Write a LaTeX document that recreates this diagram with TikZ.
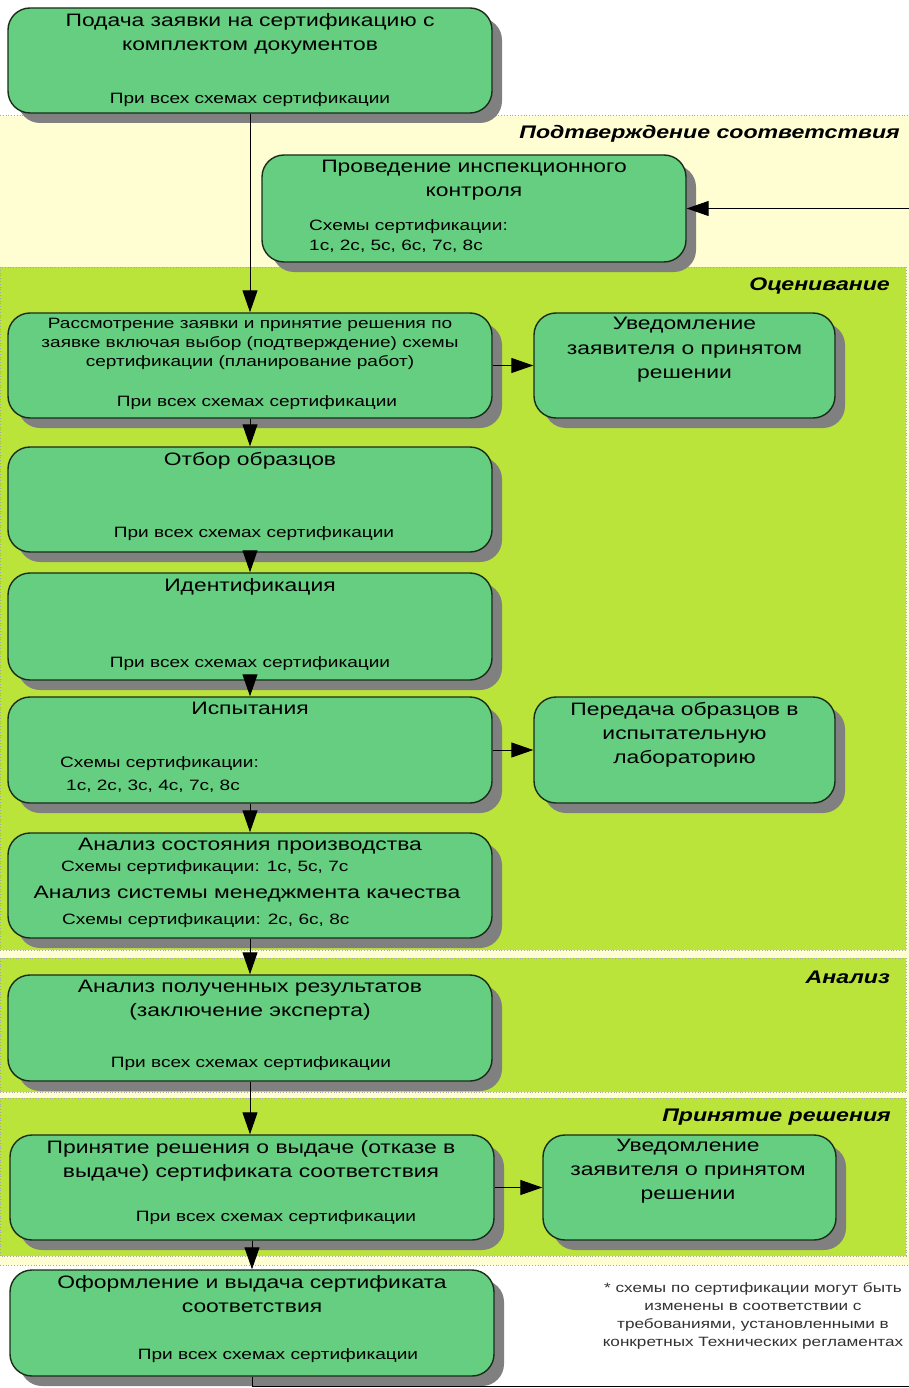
\documentclass[tikz,border=0pt]{standalone}
\usepackage{fontspec}
\setmainfont{Liberation Sans}[FakeStretch=1.27]
\usetikzlibrary{arrows.meta,shadows}
\definecolor{boxgreen}{RGB}{102,206,128}
\definecolor{lanegreen}{RGB}{186,228,58}
\definecolor{paleyellow}{RGB}{254,254,210}
\definecolor{shadowgray}{RGB}{128,128,128}
\definecolor{edgedark}{RGB}{25,45,25}
\definecolor{notegray}{RGB}{50,50,50}
\tikzset{
  procbox/.style={draw=edgedark, line width=1.4pt, fill=boxgreen, rounded corners=22pt,
    general shadow={fill=shadowgray, shadow xshift=10pt, shadow yshift=-10pt}, inner sep=0pt},
  ttl/.style={anchor=north, align=center, inner sep=0pt, font=\fontsize{18}{24}\selectfont},
  ttlleft/.style={anchor=north west, align=left, inner sep=0pt, font=\fontsize{15}{20}\selectfont},
  sub/.style={anchor=north, inner sep=0pt, font=\fontsize{15}{19}\selectfont},
  subleft/.style={anchor=north west, inner sep=0pt, font=\fontsize{15}{19}\selectfont},
  lanelabel/.style={anchor=north east, inner sep=0pt, font=\fontsize{18.2}{22}\selectfont\bfseries\itshape},
  flow/.style={draw=black, line width=1pt, -{Triangle[length=22pt,width=15pt]}},
  plainline/.style={draw=black, line width=1pt},
  laneedge/.style={draw=gray!70, dotted, line width=0.8pt},
}
\begin{document}
\begin{tikzpicture}[x=1pt,y=-1pt]
\useasboundingbox (0,0) rectangle (909,1388);
\fill[white] (0,0) rectangle (909,1388);
% lanes
\fill[paleyellow] (0,115) rectangle (909,1265);
\draw[laneedge] (0,115) -- (909,115);
\draw[laneedge] (0,1265) -- (909,1265);
\fill[lanegreen] (0,267) rectangle (906,950);
\draw[laneedge] (0,267) rectangle (906,950);
\fill[lanegreen] (0,958) rectangle (906,1092);
\draw[laneedge] (0,958) rectangle (906,1092);
\fill[lanegreen] (0,1098) rectangle (906,1256);
\draw[laneedge] (0,1098) rectangle (906,1256);
\node[lanelabel] (l1) at (900,125) {Подтверждение соответствия};
\node[lanelabel] (l2) at (890,278) {Оценивание};
\node[lanelabel] (l3) at (890,971) {Анализ};
\node[lanelabel] (l4) at (891,1109) {Принятие решения};
% boxes
\node[procbox, minimum width=484pt, minimum height=105pt] (b1) at (250,60.5) {};
\node[procbox, minimum width=424pt, minimum height=107pt] (insp) at (474,208.5) {};
\node[procbox, minimum width=484pt, minimum height=105pt] (rev) at (250,365.5) {};
\node[procbox, minimum width=301pt, minimum height=105pt] (not1) at (684.5,365.5) {};
\node[procbox, minimum width=484pt, minimum height=105pt] (otb) at (250,499.5) {};
\node[procbox, minimum width=484pt, minimum height=107pt] (idn) at (250,626.5) {};
\node[procbox, minimum width=484pt, minimum height=106pt] (isp) at (250,750) {};
\node[procbox, minimum width=301pt, minimum height=106pt] (per) at (684.5,750) {};
\node[procbox, minimum width=484pt, minimum height=105pt] (ans) at (250,885.5) {};
\node[procbox, minimum width=484pt, minimum height=106pt] (anr) at (250,1028) {};
\node[procbox, minimum width=484pt, minimum height=105pt] (prn) at (252,1187.5) {};
\node[procbox, minimum width=293pt, minimum height=105pt] (not2) at (689.5,1187.5) {};
\node[procbox, minimum width=484pt, minimum height=106pt] (ofr) at (252,1323) {};
% texts
\node[ttl] (t1) at (250,13) {Подача заявки на сертификацию с\\комплектом документов};
\node[sub] (s1) at (250,92) {При всех схемах сертификации};
\node[ttl] (t2) at (474,160) {Проведение инспекционного\\контроля};
\node[ttlleft] (s2) at (309,219) {Схемы сертификации:\\1с, 2с, 5с, 6с, 7с, 8с};
\node[ttl, font=\fontsize{15}{19}\selectfont] (t3) at (250,318) {Рассмотрение заявки и принятие решения по\\заявке включая выбор (подтверждение) схемы\\сертификации (планирование работ)};
\node[sub] (s3) at (257,395) {При всех схемах сертификации};
\node[ttl, font=\fontsize{18}{24.5}\selectfont] (t4) at (684.5,317) {Уведомление\\заявителя о принятом\\решении};
\node[ttl] (t5) at (250,452) {Отбор образцов};
\node[sub] (s5) at (254,526) {При всех схемах сертификации};
\node[ttl] (t6) at (250,578) {Идентификация};
\node[sub] (s6) at (250,656) {При всех схемах сертификации};
\node[ttl] (t7) at (250,702) {Испытания};
\node[subleft] (s7a) at (60,756) {Схемы сертификации:};
\node[subleft] (s7b) at (66,780) {1с, 2с, 3с, 4с, 7с, 8с};
\node[ttl] (t8) at (684.5,702) {Передача образцов в\\испытательную\\лабораторию};
\node[ttl] (t9a) at (250,838) {Анализ состояния производства};
\node[subleft] (s9a) at (61,860) {Схемы сертификации: 1с, 5с, 7с};
\node[ttl] (t9b) at (247,886) {Анализ системы менеджмента качества};
\node[subleft] (s9b) at (62,913) {Схемы сертификации: 2с, 6с, 8с};
\node[ttl] (t10) at (250,980) {Анализ полученных результатов\\(заключение эксперта)};
\node[sub] (s10) at (251,1056) {При всех схемах сертификации};
\node[ttl] (t11) at (251,1140) {Принятие решения о выдаче (отказе в\\выдаче) сертификата соответствия};
\node[sub] (s11) at (276,1210) {При всех схемах сертификации};
\node[ttl] (t12) at (688,1139) {Уведомление\\заявителя о принятом\\решении};
\node[ttl] (t13) at (252,1275) {Оформление и выдача сертификата\\соответствия};
\node[sub] (s13) at (278,1348) {При всех схемах сертификации};
\node[anchor=north, align=center, inner sep=0pt, text=notegray, font=\fontsize{13.5}{18}\selectfont] (note) at (753,1282)
  {* схемы по сертификации могут быть\\изменены в соответствии с\\требованиями, установленными в\\конкретных Технических регламентах};
% connectors
\draw[flow] (b1.south) -- (b1.south |- rev.north);
\draw[flow] (rev.south) -- (otb.north);
\draw[flow] (otb.south) -- (idn.north);
\draw[flow] (idn.south) -- (isp.north);
\draw[flow] (isp.south) -- (ans.north);
\draw[flow] (ans.south) -- (anr.north);
\draw[flow] (anr.south) -- (anr.south |- prn.north);
\draw[flow] (prn.south) -- (ofr.north);
\draw[flow] (rev.east) -- (not1.west);
\draw[flow] (isp.east) -- (per.west);
\draw[flow] (prn.east) -- (not2.west);
\coordinate (fbB) at (909,1386);
\coordinate (fbT) at (909,208.5);
\draw[plainline] (ofr.south) |- (fbB);
\draw[flow] (fbT) -- (insp.east);
\end{tikzpicture}
\end{document}
